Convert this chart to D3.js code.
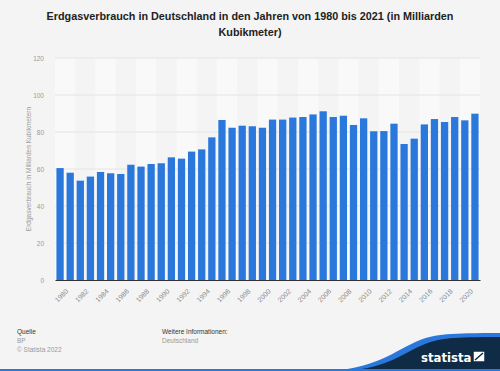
<!DOCTYPE html>
<html>
<head>
<meta charset="utf-8">
<script src="https://cdn.jsdelivr.net/npm/d3@7"></script>
<style>
    body { margin: 0; background: #f4f4f4; }
    svg { display: block; font-family: "Liberation Sans", Arial, sans-serif; }
</style>
</head>
<body>
<div id="chart"></div>
<script>
// Erdgasverbrauch in Deutschland, Mrd. m³
var years = d3.range(1980, 2022).map(String);
var values = [60.5, 58.0, 53.7, 55.9, 58.4, 57.7, 57.3, 62.3, 61.3, 62.7,
    63.1, 66.3, 65.6, 69.4, 70.6, 77.1, 86.5, 82.3, 83.4, 83.1,
    82.3, 86.7, 86.7, 87.8, 88.1, 89.5, 91.2, 88.1, 88.8, 83.8,
    87.4, 80.4, 80.5, 84.5, 73.5, 76.4, 84.1, 87.0, 85.4, 88.1,
    86.3, 89.9];
var yTicks = [0, 20, 40, 60, 80, 100, 120];
var xTickLabels = years.filter(function (d, i) { return i % 2 === 0 && +d <= 2020; });

var svgWidth = 500, svgHeight = 371;
var margin = {top: 58, right: 20, bottom: 91, left: 55};
var width = svgWidth - margin.left - margin.right;
var height = svgHeight - margin.top - margin.bottom;

var svg = d3.select("#chart").append("svg")
    .attr("width", svgWidth)
    .attr("height", svgHeight);

svg.append("rect")
    .attr("width", svgWidth)
    .attr("height", svgHeight)
    .attr("fill", "#f4f4f4");

// title
svg.append("text")
    .attr("x", 250).attr("y", 20)
    .attr("text-anchor", "middle")
    .attr("font-size", "10.8px").attr("font-weight", "bold").attr("fill", "#222")
    .text("Erdgasverbrauch in Deutschland in den Jahren von 1980 bis 2021 (in Milliarden");
svg.append("text")
    .attr("x", 250).attr("y", 36)
    .attr("text-anchor", "middle")
    .attr("font-size", "10.8px").attr("font-weight", "bold").attr("fill", "#222")
    .text("Kubikmeter)");

var g = svg.append("g")
    .attr("transform", "translate(" + margin.left + "," + margin.top + ")");

var x = d3.scaleBand().domain(years).range([0, width]).paddingInner(0.28).paddingOuter(0.14);
var y = d3.scaleLinear().domain([0, 120]).range([height, 0]);

// alternating background stripes (two years each)
var pairs = years.filter(function (d, i) { return i % 4 === 0; });
g.selectAll("rect.stripe")
    .data(pairs)
    .enter()
    .append("rect")
    .attr("class", "stripe")
    .attr("x", function (d) { return x(d) - x.step() * x.paddingInner() / 2; })
    .attr("width", x.step() * 2)
    .attr("y", 0)
    .attr("height", height)
    .attr("fill", "#f9f9f9");

// grid lines
g.selectAll("line.grid")
    .data(yTicks.slice(1))
    .enter()
    .append("line")
    .attr("class", "grid")
    .attr("x1", 0).attr("x2", width)
    .attr("y1", function (d) { return y(d); })
    .attr("y2", function (d) { return y(d); })
    .attr("stroke", "#e4e4e4")
    .attr("stroke-width", 1);

// y axis
var yAxis = g.append("g")
    .call(d3.axisLeft(y).tickValues(yTicks).tickSize(0).tickPadding(11));
yAxis.select(".domain").remove();
yAxis.selectAll("text").attr("font-size", "6.5px").attr("fill", "#9a9a9a")
    .attr("font-family", "Liberation Sans, Arial, sans-serif");

svg.append("text")
    .attr("transform", "translate(31," + (margin.top + height / 2) + ") rotate(-90)")
    .attr("text-anchor", "middle")
    .attr("font-size", "6.5px").attr("fill", "#9a9a9a")
    .text("Erdgasverbrauch in Milliarden Kubikmetern");

// bars
g.selectAll("rect.bar")
    .data(values)
    .enter()
    .append("rect")
    .attr("class", "bar")
    .attr("x", function (d, i) { return x(years[i]); })
    .attr("width", x.bandwidth())
    .attr("y", function (d) { return y(d); })
    .attr("height", function (d) { return height - y(d); })
    .attr("fill", "#2a78dc");

// x axis
var xAxis = g.append("g")
    .attr("transform", "translate(0," + height + ")")
    .call(d3.axisBottom(x).tickValues(xTickLabels).tickSize(0).tickPadding(6));
xAxis.select(".domain").attr("stroke", "#333").attr("stroke-width", 1.2);
xAxis.selectAll("text")
    .attr("font-size", "7px").attr("fill", "#8a8a8a")
    .attr("font-family", "Liberation Sans, Arial, sans-serif")
    .attr("text-anchor", "end")
    .attr("dy", "0.3em")
    .attr("transform", "translate(3,6) rotate(-45)");

// footer
var foot = svg.append("g").attr("font-size", "6.5px");
foot.append("text").attr("x", 17).attr("y", 334).attr("fill", "#333").text("Quelle");
foot.append("text").attr("x", 17).attr("y", 343).attr("fill", "#999").text("BP");
foot.append("text").attr("x", 17).attr("y", 352).attr("fill", "#999").text("© Statista 2022");
foot.append("text").attr("x", 162).attr("y", 334).attr("fill", "#333").text("Weitere Informationen:");
foot.append("text").attr("x", 162).attr("y", 343).attr("fill", "#999").text("Deutschland");

// statista logo block
svg.append("path")
    .attr("d", "M320,371 C375,371 395,350 420,340 C435,334 450,333 500,333 L500,371 Z")
    .attr("fill", "#2a78dc");
svg.append("path")
    .attr("d", "M335,371 C385,371 400,354 425,344 C440,338 452,337 500,337 L500,371 Z")
    .attr("fill", "#0f2b46");
svg.append("rect")
    .attr("x", 0).attr("y", 369).attr("width", 500).attr("height", 2)
    .attr("fill", "#2a78dc");
svg.append("text")
    .attr("x", 421).attr("y", 362)
    .attr("font-size", "13px").attr("font-weight", "bold").attr("fill", "#fff")
    .attr("font-family", "DejaVu Sans Condensed, DejaVu Sans, sans-serif")
    .text("statista");
svg.append("path")
    .attr("d", "M473,351 L485,351 L485,362 L473,362 Z M475,360 L483,353")
    .attr("fill", "#fff").attr("stroke", "#0f2b46").attr("stroke-width", 1.5);
</script>
</body>
</html>
